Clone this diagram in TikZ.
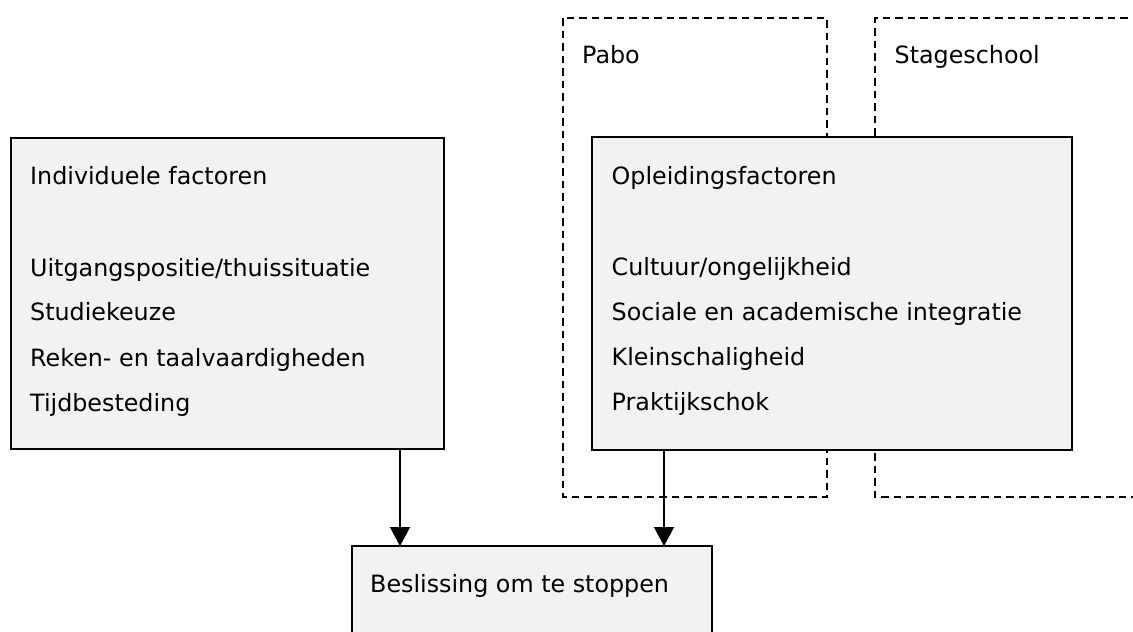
\documentclass[tikz,border=0pt]{standalone}
\usepackage{fontspec}
\setmainfont{DejaVu Sans}
\usetikzlibrary{arrows.meta}
\definecolor{boxfill}{HTML}{F2F2F2}
\tikzset{
  x=1pt, y=-1pt,
  factorbox/.style={draw=black, line width=2pt, fill=boxfill},
  zone/.style={draw=black, line width=1.8pt, dash pattern=on 7.5pt off 5pt},
  txt/.style={anchor=base west, inner sep=0pt, font=\fontsize{23.8pt}{28pt}\selectfont},
  link/.style={draw=black, line width=1.6pt, -{Triangle[width=20pt,length=19pt]}}
}
\begin{document}
\begin{tikzpicture}
\useasboundingbox (0,0) rectangle (1133,632);
\clip (0,0) rectangle (1133,632);
% dashed zones
\draw[zone] (563,18) rectangle (827,497);
\draw[zone] (1140,18) -- (875,18) -- (875,497) -- (1140,497);
\node[txt] (pabo) at (582,63) {Pabo};
\node[txt] (stage) at (894.5,63) {Stageschool};
% boxes
\path[factorbox] (11,138) rectangle (444,449);
\coordinate (indOut) at (400,449);
\path[factorbox] (592,137) rectangle (1072,450);
\coordinate (oplOut) at (664,450);
\path[factorbox] (352,546) rectangle (712,660);
\coordinate (besInL) at (400,546);
\coordinate (besInR) at (664,546);
% left texts
\node[txt] (ind) at (30,184) {Individuele factoren};
\node[txt] (i1) at (30,276) {Uitgangspositie/thuissituatie};
\node[txt] (i2) at (30,320.5) {Studiekeuze};
\node[txt] (i3) at (30,366) {Reken- en taalvaardigheden};
\node[txt] (i4) at (30,411) {Tijdbesteding};
% right texts
\node[txt] (opl) at (611.5,184) {Opleidingsfactoren};
\node[txt] (o1) at (611.5,275) {Cultuur/ongelijkheid};
\node[txt] (o2) at (611.5,320) {Sociale en academische integratie};
\node[txt] (o3) at (611.5,365) {Kleinschaligheid};
\node[txt] (o4) at (611.5,410) {Praktijkschok};
% bottom text
\node[txt] (bes) at (370,592) {Beslissing om te stoppen};
% arrows
\draw[link] (indOut) -- (besInL);
\draw[link] (oplOut) -- (besInR);
\end{tikzpicture}
\end{document}
